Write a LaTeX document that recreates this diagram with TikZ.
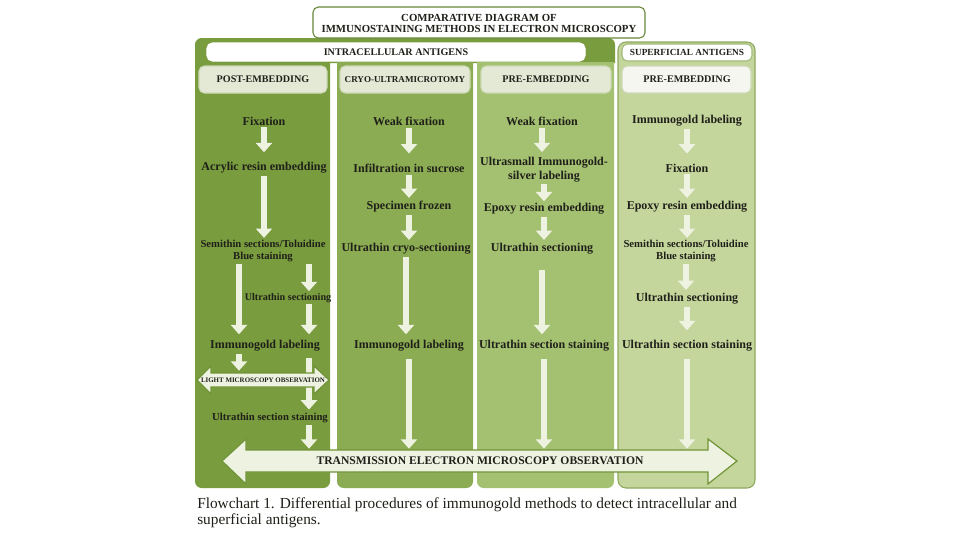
\documentclass[tikz,border=0pt]{standalone}
\usepackage{fontspec}
\setmainfont{Liberation Serif}
\usetikzlibrary{arrows.meta,positioning}

\definecolor{colA}{RGB}{121,156,62}
\definecolor{colB}{RGB}{139,172,82}
\definecolor{colC}{RGB}{164,193,113}
\definecolor{colD}{RGB}{196,214,156}
\definecolor{panelLine}{RGB}{142,168,96}
\definecolor{boxLine}{RGB}{104,134,56}
\definecolor{headFill}{RGB}{228,233,214}
\definecolor{headLine}{RGB}{205,216,182}
\definecolor{arrowFill}{RGB}{238,242,224}
\definecolor{arrowLine}{RGB}{112,148,56}
\definecolor{inkText}{RGB}{32,32,26}

\begin{document}
\begin{tikzpicture}[x=0.75pt,y=0.75pt,yscale=-1,
  stage/.style={font=\fontsize{9}{10.5}\selectfont\bfseries, text=inkText, inner sep=1.5pt, align=center},
  stagesm/.style={stage, font=\fontsize{8}{9}\selectfont\bfseries},
  headtext/.style={font=\fontsize{7.6}{9}\selectfont\bfseries, text=inkText, inner sep=1pt},
  flow/.style={draw=arrowFill, line width=5pt, -{Triangle[length=7pt,width=12pt]}, shorten >=1pt},
  blockarrow/.style={fill=arrowFill, draw=arrowLine, line width=0.9pt, line join=miter},
  headbox/.style={fill=headFill, draw=headLine, line width=0.8pt, rounded corners=4pt},
  labelbox/.style={fill=white, draw=boxLine, line width=0.8pt, rounded corners=4pt}]
%set diagram at 960 x 540
\useasboundingbox[fill=white] (0,0) rectangle (960,540);

%Shape: intracellular frame
\fill[colA] (195,63) {[rounded corners=5pt] -- (195,38) -- (615,38)} -- (615,63) -- cycle;
%Shape: columns
\fill[colA] (195,62) {[rounded corners=5pt] -- (195,488) -- (330,488)} -- (330,62) -- cycle;
\fill[colB] (337,62) {[rounded corners=5pt] -- (337,488) -- (473,488)} -- (473,62) -- cycle;
\fill[colC] (477,62) {[rounded corners=5pt] -- (477,488) -- (614,488)} -- (614,62) -- cycle;
\draw[fill=colD, draw=panelLine, line width=0.8pt, rounded corners=6pt] (618,42) rectangle (755,488);

%Shape: title box
\draw[labelbox] (313,7) rectangle (645,38);
\node[font=\fontsize{8.1}{8.4}\selectfont\bfseries, text=inkText, align=center] (title) at (479,23.5) {COMPARATIVE DIAGRAM OF\\IMMUNOSTAINING METHODS IN ELECTRON MICROSCOPY};
%Shape: group boxes
\draw[labelbox, draw=white] (207,43) rectangle (585,61);
\node[headtext] (intra) at (396,52) {INTRACELLULAR ANTIGENS};
\draw[labelbox, draw=colA!70!white] (622,44) rectangle (752,61);
\node[headtext, font=\fontsize{7}{8}\selectfont\bfseries] (super) at (687,52.5) {SUPERFICIAL ANTIGENS};

%Shape: column headers
\draw[headbox] (199,66) rectangle (327,93);
\draw[headbox] (340,66) rectangle (470,93);
\draw[headbox] (481,66) rectangle (611,93);
\draw[headbox, fill=headFill!40!white] (622,66) rectangle (751,93);
\node[headtext] (hpost) at (263,79.5) {POST-EMBEDDING};
\node[headtext, font=\fontsize{6.8}{8}\selectfont\bfseries] (hcryo) at (405,79.5) {CRYO-ULTRAMICROTOMY};
\node[headtext] (hpre) at (546,79.5) {PRE-EMBEDDING};
\node[headtext] (hsup) at (687,79.5) {PRE-EMBEDDING};

% Text Node: post-embedding
\node[stage] (fix1) at (264,121) {Fixation};
\node[stage] (acr1) at (264,168) {Acrylic resin embedding};
\node[stagesm] (semi1) at (263,251) {Semithin sections/Toluidine\\Blue staining};
\node[stagesm, font=\fontsize{7.6}{9}\selectfont\bfseries, inner sep=0.5pt] (ult1) at (288,298) {Ultrathin sectioning};
\node[stage] (imm1) at (265,346) {Immunogold labeling};
\node[stagesm] (stn1) at (270,418) {Ultrathin section staining};
% Text Node: cryo-ultramicrotomy
\node[stage] (wfx2) at (409,121) {Weak fixation};
\node[stage] (inf2) at (409,168) {Infiltration in sucrose};
\node[stage] (frz2) at (409,207) {Specimen frozen};
\node[stage] (cry2) at (406,249) {Ultrathin cryo-sectioning};
\node[stage] (imm2) at (409,346) {Immunogold labeling};
% Text Node: pre-embedding
\node[stage] (wfx3) at (542,121) {Weak fixation};
\node[stage] (usm3) at (544,169.5) {Ultrasmall Immunogold-\\silver labeling};
\node[stage] (epx3) at (544,209) {Epoxy resin embedding};
\node[stage] (ult3) at (542,249) {Ultrathin sectioning};
\node[stage] (stn3) at (544,346) {Ultrathin section staining};
% Text Node: superficial
\node[stage] (imm4) at (687,121) {Immunogold labeling};
\node[stage] (fix4) at (687,168) {Fixation};
\node[stage] (epx4) at (687,207) {Epoxy resin embedding};
\node[stagesm] (semi4) at (686,251) {Semithin sections/Toluidine\\Blue staining};
\node[stage] (ult4) at (687,299) {Ultrathin sectioning};
\node[stage] (stn4) at (687,346) {Ultrathin section staining};

%lanes and targets
\coordinate (laneL) at (239,0);
\coordinate (laneR) at (309,0);
\coordinate (lmTop) at (0,372);
\coordinate (temTop) at (0,450);

%Arrows: post-embedding
\draw[flow, shorten >=6pt] (fix1.south) -- (fix1.south |- acr1.north);
\draw[flow, shorten >=0pt] (acr1.south) -- (acr1.south |- semi1.north);
\draw[flow, shorten >=3pt] (laneL |- semi1.south) -- (laneL |- imm1.north);
\draw[flow] (laneR |- semi1.south) -- (laneR |- ult1.north);
\draw[flow, shorten >=3pt] (laneR |- ult1.south) -- (laneR |- imm1.north);
\draw[flow] (laneL |- imm1.south) -- (laneL |- lmTop);
\draw[flow, shorten <=3pt] (laneR |- imm1.south) -- (laneR |- stn1.north);
\draw[flow] (laneR |- stn1.south) -- (laneR |- temTop);
%Arrows: cryo-ultramicrotomy
\draw[flow, shorten >=6pt] (wfx2.south) -- (wfx2.south |- inf2.north);
\draw[flow] (inf2.south) -- (inf2.south |- frz2.north);
\draw[flow] (frz2.south) -- (frz2.south |- cry2.north);
\draw[flow, shorten >=3pt] (cry2.south) -- (cry2.south |- imm2.north);
\draw[flow, shorten <=4pt] (imm2.south) -- (imm2.south |- temTop);
%Arrows: pre-embedding
\draw[flow, shorten >=2pt] (wfx3.south) -- (wfx3.south |- usm3.north);
\draw[flow, shorten >=0pt] (usm3.south) -- (usm3.south |- epx3.north);
\draw[flow] (epx3.south) -- (epx3.south |- ult3.north);
\draw[flow, shorten <=10pt, shorten >=3pt] (ult3.south) -- (ult3.south |- stn3.north);
\draw[flow, shorten <=4pt] (stn3.south) -- (stn3.south |- temTop);
%Arrows: superficial
\draw[flow, shorten >=6pt] (imm4.south) -- (imm4.south |- fix4.north);
\draw[flow] (fix4.south) -- (fix4.south |- epx4.north);
\draw[flow, shorten >=0pt] (epx4.south) -- (epx4.south |- semi4.north);
\draw[flow] (semi4.south) -- (semi4.south |- ult4.north);
\draw[flow, shorten >=6pt] (ult4.south) -- (ult4.south |- stn4.north);
\draw[flow, shorten <=4pt] (stn4.south) -- (stn4.south |- temTop);

%Shape: light microscopy double arrow
\draw[blockarrow] (197,380) -- (211,366) -- (211,373) -- (314,373) -- (314,366) -- (329,380) -- (314,394) -- (314,387) -- (211,387) -- (211,394) -- cycle;
\node[font=\fontsize{5.2}{6}\selectfont\bfseries, text=inkText, inner sep=0.5pt] (lm) at (263,380) {LIGHT MICROSCOPY OBSERVATION};

%Shape: TEM double arrow
\draw[blockarrow] (222,461) -- (246,439) -- (246,450) -- (708,450) -- (708,439) -- (737,461) -- (708,484) -- (708,472) -- (246,472) -- (246,484) -- cycle;
\node[font=\fontsize{8.7}{10}\selectfont\bfseries, text=inkText] (tem) at (480,461) {TRANSMISSION ELECTRON MICROSCOPY OBSERVATION};

% Text Node: caption
\node[anchor=north west, inner sep=0pt, align=left, font=\fontsize{11.5}{12}\selectfont, text=inkText] (caption) at (197,497) {Flowchart 1. Differential procedures of immunogold methods to detect intracellular and\\superficial antigens.};

\end{tikzpicture}
\end{document}
